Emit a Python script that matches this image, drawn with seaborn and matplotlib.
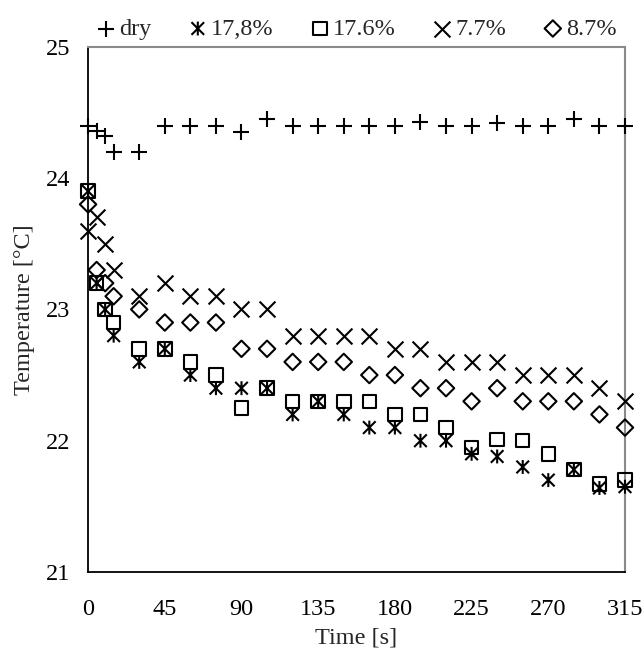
import numpy as np
import pandas as pd
import matplotlib
matplotlib.use('Agg')
import matplotlib.pyplot as plt
from matplotlib.markers import MarkerStyle
from matplotlib.path import Path
import seaborn as sns

# tempos de medição (s)
tempo = [0, 5, 10, 15, 30, 45, 60, 75, 90, 105, 120, 135, 150, 165,
         180, 195, 210, 225, 240, 255, 270, 285, 300, 315]

# temperaturas (°C) de cada série
dry = [24.4, 24.36, 24.32, 24.2, 24.2, 24.4, 24.4, 24.4, 24.35, 24.45, 24.4, 24.4,
       24.4, 24.4, 24.4, 24.43, 24.4, 24.4, 24.42, 24.4, 24.4, 24.45, 24.4, 24.4]
u178 = [23.9, 23.2, 23.0, 22.8, 22.6, 22.7, 22.5, 22.4, 22.4, 22.4, 22.2, 22.3,
        22.2, 22.1, 22.1, 22.0, 22.0, 21.9, 21.88, 21.8, 21.7, 21.78, 21.64, 21.65]
u176 = [23.9, 23.2, 23.0, 22.9, 22.7, 22.7, 22.6, 22.5, 22.25, 22.4, 22.3, 22.3,
        22.3, 22.3, 22.2, 22.2, 22.1, 21.95, 22.01, 22.0, 21.9, 21.78, 21.67, 21.7]
u77 = [23.6, 23.7, 23.5, 23.3, 23.1, 23.2, 23.1, 23.1, 23.0, 23.0, 22.8, 22.8,
       22.8, 22.8, 22.7, 22.7, 22.6, 22.6, 22.6, 22.5, 22.5, 22.5, 22.4, 22.3]
u87 = [23.8, 23.3, 23.2, 23.1, 23.0, 22.9, 22.9, 22.9, 22.7, 22.7, 22.6, 22.6,
       22.6, 22.5, 22.5, 22.4, 22.4, 22.3, 22.4, 22.3, 22.3, 22.3, 22.2, 22.1]

rotulos = ['dry', '17,8%', '17.6%', '7.7%', '8.7%']
series = [dry, u178, u176, u77, u87]

# marcador asterisco (X com barra vertical)
ast = Path([(-1, -1), (1, 1), (-1, 1), (1, -1), (0, -1.1), (0, 1.1)],
           [Path.MOVETO, Path.LINETO, Path.MOVETO, Path.LINETO, Path.MOVETO, Path.LINETO])
marcadores = ['+',
              MarkerStyle(ast, fillstyle='none'),
              MarkerStyle('s', fillstyle='none'),
              'x',
              MarkerStyle('D', fillstyle='none')]
tamanhos = [130, 100, 95, 130, 70]

sns.set_style('white')
plt.rcParams['font.family'] = ['Liberation Serif', 'DejaVu Serif']

fig = plt.figure(figsize=(6.43, 6.59), dpi=100)
ax = fig.add_axes([0.137, 0.132, 0.835, 0.797])

for rot, val, mk, sz in zip(rotulos, series, marcadores, tamanhos):
    df = pd.DataFrame({'tempo': tempo, 'temp': val})
    sns.scatterplot(data=df, x='tempo', y='temp', marker=mk, s=sz, color='black',
                    linewidth=1.5, label=rot, ax=ax, clip_on=False, zorder=3)

ax.set_xlim(0, 315)
ax.set_ylim(21, 25)
ax.set_xticks(range(0, 316, 45))
ax.set_yticks([21, 22, 23, 24, 25])
ax.tick_params(axis='both', direction='inout', length=9, width=1.2, colors='black',
               labelsize=17.5)
ax.tick_params(axis='x', pad=15)
ax.tick_params(axis='y', pad=8)

for lado in ['left', 'bottom']:
    ax.spines[lado].set_color('black')
    ax.spines[lado].set_linewidth(1.3)
for lado in ['top', 'right']:
    ax.spines[lado].set_color('#8a8a8a')
    ax.spines[lado].set_linewidth(1.5)

ax.set_xlabel('Time [s]', fontsize=17.5, labelpad=5)
ax.set_ylabel('Temperature [°C]', fontsize=17.5, labelpad=8)

ax.legend(loc='lower center', bbox_to_anchor=(0.5, 0.99), ncol=5, frameon=False,
          fontsize=17.5, handletextpad=0.15, columnspacing=1.5, scatterpoints=1,
          borderaxespad=0.1, handlelength=0.8, markerscale=1.0)

fig.savefig('out.png', dpi=100)
